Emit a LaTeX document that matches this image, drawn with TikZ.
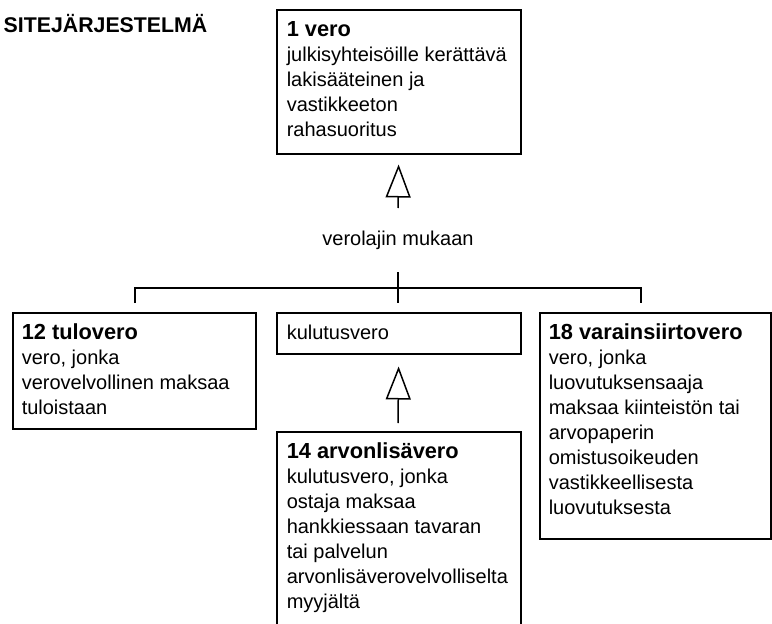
\documentclass[tikz,border=0pt]{standalone}
\usepackage{fontspec}
\setmainfont{Liberation Sans}
\usetikzlibrary{arrows.meta}
\newcommand{\boxtitle}[1]{\rule{0pt}{20pt}{\fontsize{21.8}{25}\selectfont\bfseries #1}}
\begin{document}
\begin{tikzpicture}[x=1pt,y=-1pt,
  line width=1.5pt,
  boxframe/.style={draw=black, line width=1.5pt, inner sep=0pt, anchor=north west, minimum width=244pt},
  boxtext/.style={anchor=north west, inner sep=0pt, align=left, font=\fontsize{20}{25}\selectfont},
  gen/.style={-{Triangle[open, width=25pt, length=33pt]}}
]
\useasboundingbox (0,0) rectangle (772,624);

\node[anchor=base west, inner sep=0pt, font=\fontsize{21.3}{24}\selectfont\bfseries] (title) at (3,32) {SITEJÄRJESTELMÄ};

% top box
\node[boxframe, minimum height=144pt] (vero) at (276,9) {};
\node[boxtext] (verot) at ([xshift=10pt,yshift=-7pt]vero.north west)
  {\boxtitle{1 vero}\\julkisyhteisöille kerättävä\\lakisääteinen ja\\vastikkeeton\\rahasuoritus};

% left box
\node[boxframe, minimum width=243pt, minimum height=116pt] (tulo) at (12,312) {};
\node[boxtext] (tulot) at ([xshift=9pt,yshift=-7pt]tulo.north west)
  {\boxtitle{12 tulovero}\\vero, jonka\\verovelvollinen maksaa\\tuloistaan};

% middle box
\node[boxframe, minimum height=41pt] (kulutus) at (276,312) {};
\node[boxtext] (kulutust) at ([xshift=10pt,yshift=-7pt]kulutus.north west)
  {\rule{0pt}{20pt}kulutusvero};

% right box
\node[boxframe, minimum width=231pt, minimum height=226pt] (varain) at (539,312) {};
\node[boxtext] (varaint) at ([xshift=9pt,yshift=-7pt]varain.north west)
  {\boxtitle{18 varainsiirtovero}\\vero, jonka\\luovutuksensaaja\\maksaa kiinteistön tai\\arvopaperin\\omistusoikeuden\\vastikkeellisesta\\luovutuksesta};

% bottom box
\node[boxframe, minimum height=200pt] (alv) at (276,431) {};
\node[boxtext] (alvt) at ([xshift=10pt,yshift=-7pt]alv.north west)
  {\boxtitle{14 arvonlisävero}\\kulutusvero, jonka\\ostaja maksaa\\hankkiessaan tavaran\\tai palvelun\\arvonlisäverovelvolliselta\\myyjältä};

% label
\node[anchor=base, inner sep=0pt, font=\fontsize{20}{25}\selectfont] (lajit) at (398,245) {verolajin mukaan};

% generalisation arrows
\coordinate (s1) at (398,208);
\draw[gen, shorten >=10pt] (s1) -- (vero.south);
\coordinate (s2) at (398,423);
\draw[gen, shorten >=12pt] (s2) -- (kulutus.south);

% tree
\coordinate (tk1) at (398,272);
\coordinate (tk2) at (398,303);
\coordinate (l1) at (135,303);
\coordinate (l2) at (135,288);
\coordinate (r1) at (641,288);
\coordinate (r2) at (641,303);
\draw (tk1) -- (tk2);
\draw (l1) -- (l2) -- (r1) -- (r2);
\end{tikzpicture}
\end{document}
